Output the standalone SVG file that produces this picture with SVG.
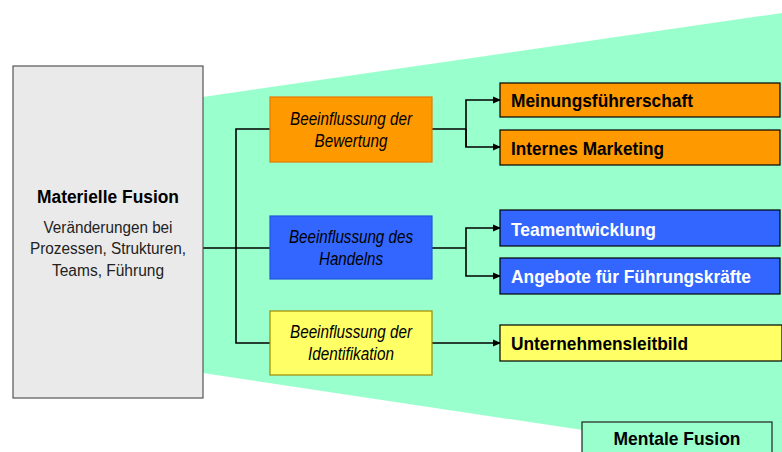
<svg xmlns="http://www.w3.org/2000/svg" width="782" height="452" viewBox="0 0 782 452">
<defs>
<marker id="ah" markerWidth="8" markerHeight="8" refX="7" refY="4" orient="auto" markerUnits="userSpaceOnUse">
<path d="M0,0.5 L8,4 L0,7.5 Z" fill="#000"/>
</marker>
<style>
text{font-family:"Liberation Sans",Arial,sans-serif}
.t{font-size:19px;font-weight:bold;fill:#000}
.tw{font-size:19px;font-weight:bold;fill:#fff}
.m{font-size:17.5px;font-style:italic;fill:#000;text-anchor:middle}
.s{font-size:16px;fill:#222;text-anchor:middle}
.c{stroke:#000;stroke-width:1.6;fill:none}
.r{stroke:#000;stroke-width:1.2}
</style>
</defs>
<rect width="782" height="452" fill="#fff"/>
<polygon points="203,97 782,13 782,460 203,373" fill="#99FFCC"/>

<g id="connectors">
<polyline class="c" points="203,248 270,248"/>
<polyline class="c" points="270,129 236,129 236,343 270,343"/>
<polyline class="c" points="432,129 466,129"/>
<polyline class="c" points="466,147 466,100 500,100" marker-end="url(#ah)"/>
<polyline class="c" points="466,129 466,147 500,147" marker-end="url(#ah)"/>
<polyline class="c" points="432,248 466,248"/>
<polyline class="c" points="466,248 466,228 500,228" marker-end="url(#ah)"/>
<polyline class="c" points="466,248 466,276 500,276" marker-end="url(#ah)"/>
<polyline class="c" points="432,343 500,343" marker-end="url(#ah)"/>
</g>

<g id="materielle">
<rect x="13" y="66" width="190" height="332" fill="#EAEAEA" stroke="#555" stroke-width="1.2"/>
<text x="108" y="203" text-anchor="middle" style="font-size:18px;font-weight:bold" textLength="142" lengthAdjust="spacingAndGlyphs">Materielle Fusion</text>
<text class="s" x="108" y="233" textLength="129" lengthAdjust="spacingAndGlyphs">Veränderungen bei</text>
<text class="s" x="108" y="254" textLength="156" lengthAdjust="spacingAndGlyphs">Prozessen, Strukturen,</text>
<text class="s" x="108" y="276" textLength="112" lengthAdjust="spacingAndGlyphs">Teams, Führung</text>
</g>

<g id="bewertung">
<rect x="270" y="97" width="162" height="65" fill="#FF9900" stroke="#E87800" stroke-width="1.2"/>
<text class="m" x="351" y="125" textLength="122" lengthAdjust="spacingAndGlyphs">Beeinflussung der</text>
<text class="m" x="351" y="147" textLength="73" lengthAdjust="spacingAndGlyphs">Bewertung</text>
</g>
<g id="handeln">
<rect x="270" y="216" width="162" height="63" fill="#3366FF" stroke="#2255DD" stroke-width="1.2"/>
<text class="m" x="351" y="243" textLength="124" lengthAdjust="spacingAndGlyphs">Beeinflussung des</text>
<text class="m" x="351" y="265" textLength="64" lengthAdjust="spacingAndGlyphs">Handelns</text>
</g>
<g id="identifikation">
<rect x="270" y="311" width="162" height="64" fill="#FFFF66" stroke="#A08A00" stroke-width="1.2"/>
<text class="m" x="351" y="338" textLength="122" lengthAdjust="spacingAndGlyphs">Beeinflussung der</text>
<text class="m" x="351" y="360" textLength="86" lengthAdjust="spacingAndGlyphs">Identifikation</text>
</g>

<g id="meinung">
<rect class="r" x="500" y="83" width="280" height="34" fill="#FF9900"/>
<text class="t" x="511" y="107" textLength="182" lengthAdjust="spacingAndGlyphs">Meinungsführerschaft</text>
</g>
<g id="marketing">
<rect class="r" x="500" y="130" width="280" height="35" fill="#FF9900"/>
<text class="t" x="511" y="155" textLength="153" lengthAdjust="spacingAndGlyphs">Internes Marketing</text>
</g>
<g id="team">
<rect class="r" x="500" y="210" width="280" height="36" fill="#3366FF"/>
<text class="tw" x="511" y="236" textLength="145" lengthAdjust="spacingAndGlyphs">Teamentwicklung</text>
</g>
<g id="angebote">
<rect class="r" x="500" y="258" width="280" height="36" fill="#3366FF"/>
<text class="tw" x="511" y="283" textLength="240" lengthAdjust="spacingAndGlyphs">Angebote für Führungskräfte</text>
</g>
<g id="leitbild">
<rect class="r" x="500" y="325" width="282" height="36" fill="#FFFF66"/>
<text class="t" x="511" y="350" textLength="177" lengthAdjust="spacingAndGlyphs">Unternehmensleitbild</text>
</g>

<g id="mentale">
<rect x="582" y="422" width="190" height="40" fill="#99FFCC" stroke="#222" stroke-width="1.2"/>
<text class="t" x="677" y="445" text-anchor="middle" textLength="127" lengthAdjust="spacingAndGlyphs">Mentale Fusion</text>
</g>
</svg>
